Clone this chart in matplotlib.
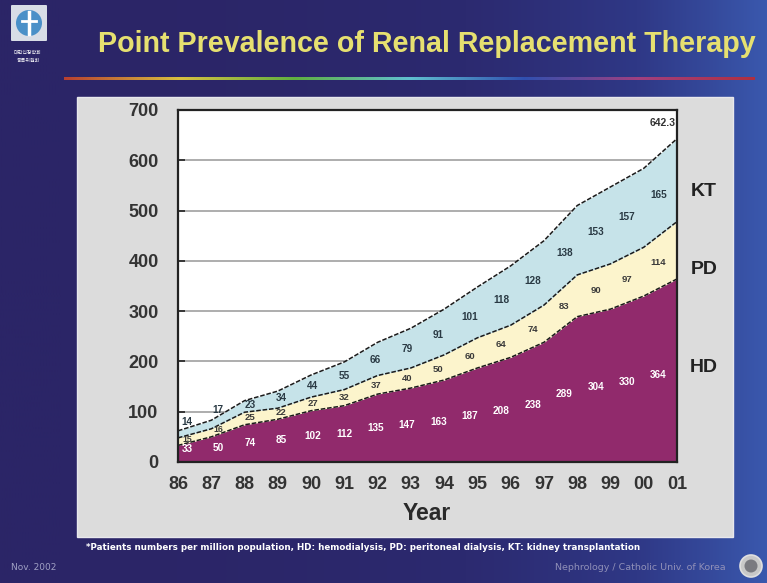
import numpy as np
import matplotlib
matplotlib.use("Agg")
import matplotlib.pyplot as plt
import matplotlib.patches as patches
from matplotlib.colors import LinearSegmentedColormap

plt.rcParams['font.family'] = ['Liberation Sans', 'DejaVu Sans']

# --- data (patients per million population) ---
years = ['86', '87', '88', '89', '90', '91', '92', '93',
         '94', '95', '96', '97', '98', '99', '00', '01']
hd = [33, 50, 74, 85, 102, 112, 135, 147, 163, 187, 208, 238, 289, 304, 330, 364]
pd_ = [15, 16, 25, 22, 27, 32, 37, 40, 50, 60, 64, 74, 83, 90, 97, 114]
kt = [14, 17, 23, 34, 44, 55, 66, 79, 91, 101, 118, 128, 138, 153, 157, 165]
total_label = "642.3"

W, H = 767, 583
fig = plt.figure(figsize=(W / 100, H / 100), dpi=100)

# --- slide background ---
bg = fig.add_axes([0, 0, 1, 1])
bg.set_xlim(0, W)
bg.set_ylim(H, 0)
bg.axis('off')
cmap = LinearSegmentedColormap.from_list(
    "slide", ["#2b2567", "#2c2a70", "#2f3886", "#3a58ad"], N=256)
grad = np.linspace(0, 1, 256).reshape(1, -1) ** 2.2
bg.imshow(grad, extent=[0, W, H, 0], aspect='auto', cmap=cmap, zorder=0)

# logo top-left
bg.add_patch(patches.FancyBboxPatch((12, 6), 34, 34, boxstyle="round,pad=1",
                                    facecolor="#d8dde6", edgecolor="none", zorder=1))
bg.add_patch(patches.Circle((29, 23), 13, facecolor="#4a90c8", edgecolor="none", zorder=2))
bg.plot([29, 29], [12, 34], color="white", lw=2.5, zorder=3)
bg.plot([22, 36], [21, 21], color="white", lw=2, zorder=3)
bg.text(28, 52, "대한신장학회", color="white", fontsize=3.6,
        family=['Noto Sans CJK KR', 'DejaVu Sans'], ha='center', va='center')
bg.text(28, 61, "등록위원회", color="white", fontsize=3.6,
        family=['Noto Sans CJK KR', 'DejaVu Sans'], ha='center', va='center')

# title
bg.text(427, 44, "Point Prevalence of Renal Replacement Therapy",
        color="#e6e070", fontsize=20.6, fontweight='bold', ha='center', va='center')

# rainbow rule under title
rb = LinearSegmentedColormap.from_list(
    "rb", ["#b84030", "#d8c040", "#60b040", "#60c0d0", "#3050b0", "#a04080", "#b03040"])
bg.imshow(np.linspace(0, 1, 256).reshape(1, -1), extent=[64, 755, 80, 77],
          aspect='auto', cmap=rb, zorder=1)

# gray panel
bg.add_patch(patches.Rectangle((77, 97), 656, 440, facecolor="#dcdcdc",
                               edgecolor="#e8e8ec", lw=1, zorder=1))

# footer texts
bg.text(86, 548, "*Patients numbers per million population, HD: hemodialysis, "
        "PD: peritoneal dialysis, KT: kidney transplantation",
        color="white", fontsize=6.3, fontweight='bold', family='DejaVu Sans',
        ha='left', va='center')
bg.text(11, 568, "Nov. 2002", color="#a0a0c4", fontsize=6.5, family='DejaVu Sans',
        ha='left', va='center')
bg.text(726, 567, "Nephrology / Catholic Univ. of Korea", color="#9090b8",
        fontsize=6.8, family='DejaVu Sans', ha='right', va='center')
bg.add_patch(patches.Circle((751, 566), 11, facecolor="#c8c8c8", edgecolor="#e0e0e0",
                            lw=1.2, zorder=2))
bg.add_patch(patches.Circle((751, 566), 6.5, facecolor="#7a7a80", edgecolor="none", zorder=3))

# right-side series names
for name, yp in [("KT", 192), ("PD", 270), ("HD", 368)]:
    bg.text(704, yp, name, color="#222222", fontsize=14, fontweight='bold',
            ha='center', va='center')
bg.text(427, 513, "Year", color="#2a2a2a", fontsize=16.5, fontweight='bold',
        ha='center', va='center')

# --- main chart ---
x0, x1, y0, y1 = 178, 677, 110, 462
ax = fig.add_axes([x0 / W, 1 - y1 / H, (x1 - x0) / W, (y1 - y0) / H])
x = np.arange(len(years))
hd_a = np.array(hd, float)
pd_top = hd_a + np.array(pd_, float)
kt_top = pd_top + np.array(kt, float)

ax.set_facecolor("white")
for g in range(100, 700, 100):
    ax.axhline(g, color="#a0a0a0", lw=1.2, zorder=1)

ax.fill_between(x, 0, hd_a, color="#912a6c", lw=0, zorder=2)
ax.fill_between(x, hd_a, pd_top, color="#fcf4cc", lw=0, zorder=2)
ax.fill_between(x, pd_top, kt_top, color="#c6e3e9", lw=0, zorder=2)
for top in (hd_a, pd_top, kt_top):
    ax.plot(x, top, color="#1a1a1a", lw=1.1, ls=(0, (3, 1.2)), zorder=3)

# value labels on a slightly compressed grid
lx = 0.27 + x * 0.945
hd_i = np.interp(lx, x, hd_a)
pd_i = np.interp(lx, x, pd_top)
kt_i = np.interp(lx, x, kt_top)
for i in range(len(years)):
    ax.text(lx[i], max(hd_i[i] * 0.5, 26), str(hd[i]), color="white", fontsize=7.2,
            fontweight='bold', ha='center', va='center', zorder=4)
    ax.text(lx[i], (hd_i[i] + pd_i[i]) / 2, str(pd_[i]), color="#3a3a3a",
            fontsize=6.3 if pd_[i] < 20 else 6.8, fontweight='bold',
            ha='center', va='center', zorder=4)
    ky = (pd_i[i] + kt_i[i]) / 2 if kt[i] >= 20 else kt_i[i] + 12
    ax.text(lx[i], ky, str(kt[i]), color="#2a3a44", fontsize=7.2,
            fontweight='bold', ha='center', va='center', zorder=4)
ax.text(x[-1] - 0.05, kt_top[-1] + 22, total_label, color="#333333", fontsize=7.5,
        fontweight='bold', ha='right', va='bottom', zorder=4)

ax.set_xlim(0, len(years) - 1)
ax.set_ylim(0, 700)
ax.set_xticks(x)
ax.set_xticklabels(years)
ax.set_yticks(range(0, 800, 100))
ax.tick_params(axis='both', direction='in', length=5, width=1.2, color="#222222",
               labelsize=13, labelcolor="#333333")
ax.tick_params(axis='y', pad=14)
ax.tick_params(axis='x', pad=10)
for lab in ax.get_xticklabels() + ax.get_yticklabels():
    lab.set_fontweight('bold')
for sp in ax.spines.values():
    sp.set_color("#222222")
    sp.set_linewidth(1.6)
    sp.set_zorder(5)

fig.savefig("out.png", dpi=100)
